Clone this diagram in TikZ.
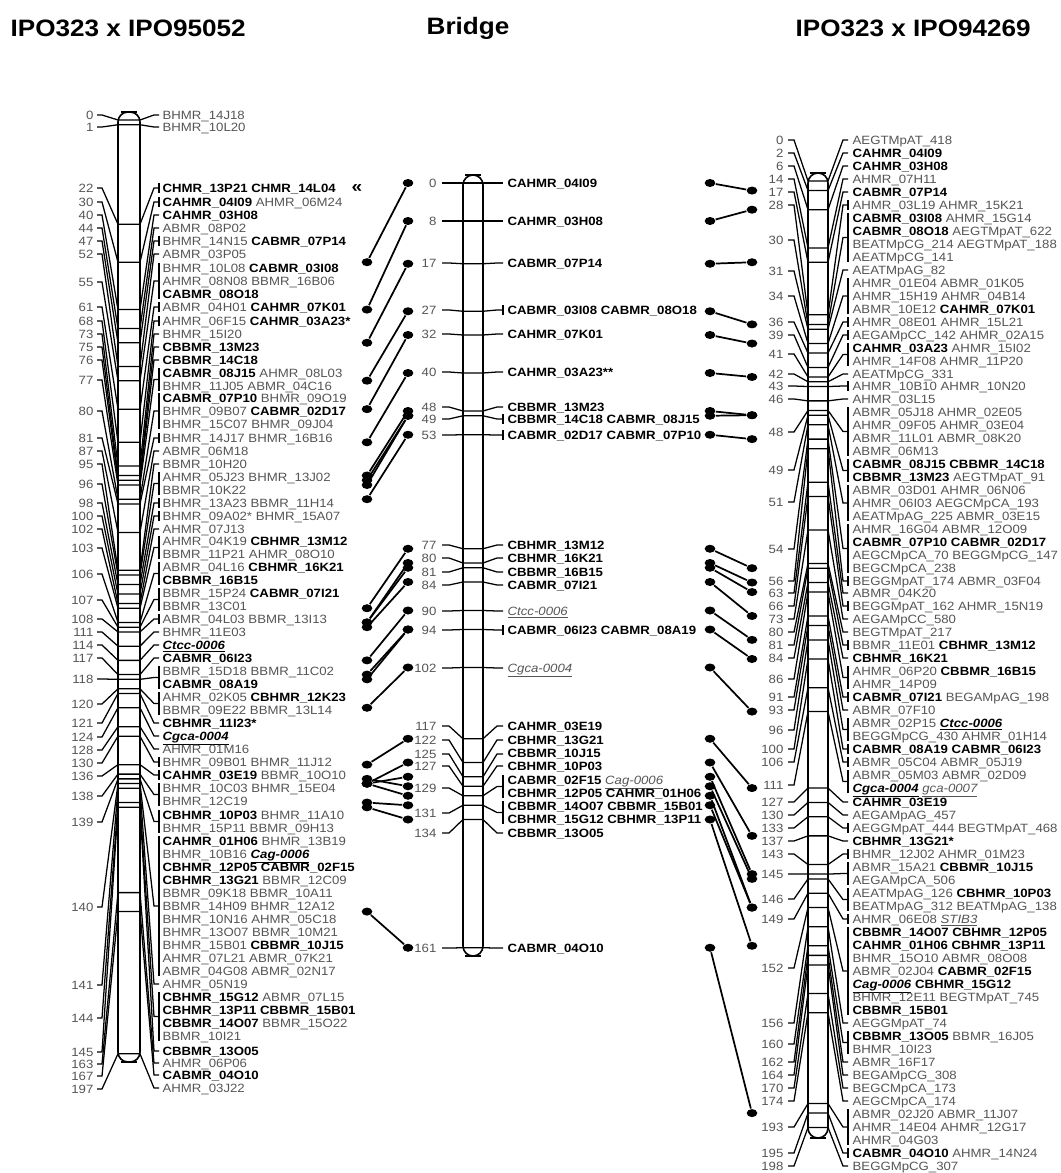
\documentclass[tikz,border=0pt]{standalone}
\usepackage{fontspec}
\setmainfont[FakeStretch=1.1]{Liberation Sans}
\usetikzlibrary{shapes.geometric}
\definecolor{mkgray}{HTML}{555555}
\newcommand\mkb[2]{\textbf{#1\_#2}}
\newcommand\mkg[2]{\textcolor{mkgray}{#1\_#2}}
\newcommand\mku[1]{\textbf{\textit{\underline{#1}}}}
\newcommand\mkn[1]{\textcolor{mkgray}{\textit{\underline{#1}}}}
\begin{document}
\begin{tikzpicture}[x=0.75pt, y=-0.75pt, line width=0.95pt,
  lab/.style={anchor=base west, inner sep=0pt, yshift=-3.2pt, font=\fontsize{9}{10}\selectfont},
  num/.style={anchor=base east, inner sep=0pt, yshift=-3.2pt, text=mkgray, font=\fontsize{9}{10}\selectfont},
  ttl/.style={inner sep=0pt, font=\bfseries\fontsize{17.8}{20}\selectfont},
  bar/.style={line width=1.2pt, rounded corners=7.5pt},
  dot/.style={ellipse, fill=black, inner sep=0pt, minimum width=8pt, minimum height=6pt},
  conn/.style={line width=1.3pt}]
\useasboundingbox (0,0) rectangle (1060,1173);
% titles
\node[ttl, anchor=west] (tleft) at (10,28) {IPO323 x IPO95052};
\node[ttl] (tmid) at (468,28) {Bridge};
\node[ttl, anchor=west] (tright) at (795,28) {IPO323 x IPO94269};
\node[inner sep=0pt, font=\bfseries\fontsize{13}{14}\selectfont] (dbl) at (357,189) {«};

% left map: position / number y / first label y / last label y / bracket
\foreach \ps/\ny/\ta/\tb/\fl [count=\k] in {0/115/115/115/0, 1/127/127/127/0, 22/188/188/188/1, 30/202/202/202/1,
  40/215/215/215/0, 44/228/228/228/0, 47/241/241/241/1, 52/254/254/254/0, 55/282/268/294/1, 61/307/307/307/1,
  68/321/321/321/1, 73/334/334/334/0, 75/347/347/347/0, 76/360/360/360/0, 77/380/373/386/1, 80/411/398/424/1,
  81/438/438/438/1, 87/451/451/451/0, 95/464/464/464/0, 96/484/477/490/1, 98/503/503/503/1, 100/516/516/516/1,
  102/529/529/529/0, 103/548/541/554/1, 106/574/567/580/1, 107/600/593/606/1, 108/619/619/619/1, 111/632/632/632/0,
  114/645/645/645/0, 117/658/658/658/0, 118/679/671/684/1, 120/704/697/710/1, 121/723/723/723/0, 124/737/736/736/0,
  128/750/749/749/0, 130/763/762/762/1, 136/776/775/775/1, 138/796/788/801/1, 139/822/815/828/1, 140/907/841/971/1,
  141/985/984/984/0, 144/1018/997/1036/1, 145/1052/1051/1051/0, 163/1064/1063/1063/0, 167/1076/1075/1075/0, 197/1089/1088/1088/0}{
  \pgfmathsetmacro\yp{120+4.74*\ps}\pgfmathsetmacro\ym{(\ta+\tb)/2}
  \node[num] (ln\k) at (94,\ny) {\ps};
  \draw (97,\ny) -- (102,\ny) -- (118,\yp) -- (140,\yp) -- (154,\ym) -- (159,\ym);
  \ifnum\fl=1 \draw (159,\ta-5) -- (159,\tb+5);\fi
}
\draw[bar] (118,112) rectangle (140,1062);
\draw (121,112) -- (137,112);\draw (121,1062) -- (137,1062);
\foreach \y/\txt [count=\k] in {115/\mkg{BHMR}{14J18}, 127/\mkg{BHMR}{10L20},
  188/\mkb{CHMR}{13P21} \mkb{CHMR}{14L04}, 202/\mkb{CAHMR}{04I09} \mkg{AHMR}{06M24}, 215/\mkb{CAHMR}{03H08},
  228/\mkg{ABMR}{08P02}, 241/\mkg{BHMR}{14N15} \mkb{CABMR}{07P14}, 254/\mkg{ABMR}{03P05},
  268/\mkg{BHMR}{10L08} \mkb{CABMR}{03I08}, 281/\mkg{AHMR}{08N08} \mkg{BBMR}{16B06}, 294/\mkb{CABMR}{08O18},
  307/\mkg{ABMR}{04H01} \mkb{CAHMR}{07K01}, 321/\mkg{AHMR}{06F15} \mkb{CAHMR}{03A23*}, 334/\mkg{BHMR}{15I20},
  347/\mkb{CBBMR}{13M23}, 360/\mkb{CBBMR}{14C18}, 373/\mkb{CABMR}{08J15} \mkg{AHMR}{08L03},
  386/\mkg{BHMR}{11J05} \mkg{ABMR}{04C16}, 398/\mkb{CABMR}{07P10} \mkg{BHMR}{09O19},
  411/\mkg{BHMR}{09B07} \mkb{CABMR}{02D17}, 424/\mkg{BHMR}{15C07} \mkg{BHMR}{09J04},
  438/\mkg{BHMR}{14J17} \mkg{BHMR}{16B16}, 451/\mkg{ABMR}{06M18}, 464/\mkg{BBMR}{10H20},
  477/\mkg{AHMR}{05J23} \mkg{BHMR}{13J02}, 490/\mkg{BBMR}{10K22}, 503/\mkg{BHMR}{13A23} \mkg{BBMR}{11H14},
  516/\mkg{BHMR}{09A02*} \mkg{BHMR}{15A07}, 529/\mkg{AHMR}{07J13}, 541/\mkg{AHMR}{04K19} \mkb{CBHMR}{13M12},
  554/\mkg{BBMR}{11P21} \mkg{AHMR}{08O10}, 567/\mkg{ABMR}{04L16} \mkb{CBHMR}{16K21}, 580/\mkb{CBBMR}{16B15},
  593/\mkg{BBMR}{15P24} \mkb{CABMR}{07I21}, 606/\mkg{BBMR}{13C01}, 619/\mkg{ABMR}{04L03} \mkg{BBMR}{13I13},
  632/\mkg{BHMR}{11E03}, 645/\mku{Ctcc-0006}, 658/\mkb{CABMR}{06I23}, 671/\mkg{BBMR}{15D18} \mkg{BBMR}{11C02},
  684/\mkb{CABMR}{08A19}, 697/\mkg{AHMR}{02K05} \mkb{CBHMR}{12K23}, 710/\mkg{BBMR}{09E22} \mkg{BBMR}{13L14},
  723/\mkb{CBHMR}{11I23*}, 736/\mku{Cgca-0004}, 749/\mkg{AHMR}{01M16}, 762/\mkg{BHMR}{09B01} \mkg{BHMR}{11J12},
  775/\mkb{CAHMR}{03E19} \mkg{BBMR}{10O10}, 788/\mkg{BHMR}{10C03} \mkg{BHMR}{15E04}, 801/\mkg{BHMR}{12C19},
  815/\mkb{CBHMR}{10P03} \mkg{BHMR}{11A10}, 828/\mkg{BHMR}{15P11} \mkg{BBMR}{09H13},
  841/\mkb{CAHMR}{01H06} \mkg{BHMR}{13B19}, 854/\mkg{BHMR}{10B16} \mku{Cag-0006},
  867/\mkb{CBHMR}{12P05} \mkb{CABMR}{02F15}, 880/\mkb{CBHMR}{13G21} \mkg{BBMR}{12C09},
  893/\mkg{BBMR}{09K18} \mkg{BBMR}{10A11}, 906/\mkg{BBMR}{14H09} \mkg{BHMR}{12A12},
  919/\mkg{BHMR}{10N16} \mkg{AHMR}{05C18}, 932/\mkg{BHMR}{13O07} \mkg{BBMR}{10M21},
  945/\mkg{BHMR}{15B01} \mkb{CBBMR}{10J15}, 958/\mkg{AHMR}{07L21} \mkg{ABMR}{07K21},
  971/\mkg{ABMR}{04G08} \mkg{ABMR}{02N17}, 984/\mkg{AHMR}{05N19}, 997/\mkb{CBHMR}{15G12} \mkg{ABMR}{07L15},
  1010/\mkb{CBHMR}{13P11} \mkb{CBBMR}{15B01}, 1023/\mkb{CBBMR}{14O07} \mkg{BBMR}{15O22}, 1036/\mkg{BBMR}{10I21},
  1051/\mkb{CBBMR}{13O05}, 1063/\mkg{AHMR}{06P06}, 1075/\mkb{CABMR}{04O10}, 1088/\mkg{AHMR}{03J22}}
  \node[lab] (ll\k) at (162,\y) {\txt};

% bridge map
\foreach \ps/\ny/\ta/\tb/\fl [count=\k] in {0/183/183/183/0, 8/221/221/221/0, 17/263/263/263/0, 27/310/310/310/1,
  32/334/334/334/0, 40/372/372/372/0, 48/407/407/407/0, 49/419/419/419/1, 53/435/435/435/1, 77/545/545/545/0,
  80/558/558/558/0, 81/572/572/572/0, 84/585/585/585/0, 90/611/611/611/0, 94/630/630/630/1, 102/668/668/668/0,
  117/726/726/726/0, 122/740/740/740/0, 125/754/754/754/0, 127/766/766/766/0, 129/788/780/793/1, 131/813/806/819/1,
  134/833/833/833/0, 161/948/948/948/0}{
  \pgfmathsetmacro\yp{183+4.75*\ps}\pgfmathsetmacro\ym{(\ta+\tb)/2}
  \node[num] (mn\k) at (437,\ny) {\ps};
  \draw (442,\ny) -- (449,\ny) -- (463,\yp) -- (483,\yp) -- (497,\ym) -- (503,\ym);
  \ifnum\fl=1 \draw (503,\ta-5) -- (503,\tb+5);\fi
}
\draw[bar] (463,175) rectangle (483,956);
\draw (465,175) -- (481,175);\draw (465,956) -- (481,956);
\foreach \y/\txt [count=\k] in {183/\mkb{CAHMR}{04I09}, 221/\mkb{CAHMR}{03H08}, 263/\mkb{CABMR}{07P14},
  310/\mkb{CABMR}{03I08} \mkb{CABMR}{08O18}, 334/\mkb{CAHMR}{07K01}, 372/\mkb{CAHMR}{03A23**},
  407/\mkb{CBBMR}{13M23}, 419/\mkb{CBBMR}{14C18} \mkb{CABMR}{08J15}, 435/\mkb{CABMR}{02D17} \mkb{CABMR}{07P10},
  545/\mkb{CBHMR}{13M12}, 558/\mkb{CBHMR}{16K21}, 572/\mkb{CBBMR}{16B15}, 585/\mkb{CABMR}{07I21},
  611/\mkn{Ctcc-0006}, 630/\mkb{CABMR}{06I23} \mkb{CABMR}{08A19}, 668/\mkn{Cgca-0004},
  726/\mkb{CAHMR}{03E19}, 740/\mkb{CBHMR}{13G21}, 753/\mkb{CBBMR}{10J15}, 766/\mkb{CBHMR}{10P03},
  780/\mkb{CABMR}{02F15} \mkn{Cag-0006}, 793/\mkb{CBHMR}{12P05} \mkb{CAHMR}{01H06},
  806/\mkb{CBBMR}{14O07} \mkb{CBBMR}{15B01}, 819/\mkb{CBHMR}{15G12} \mkb{CBHMR}{13P11},
  833/\mkb{CBBMR}{13O05}, 948/\mkb{CABMR}{04O10}}
  \node[lab] (ml\k) at (507,\y) {\txt};

% right map
\foreach \ps/\ny/\ta/\tb/\fl [count=\k] in {0/140/140/140/0, 2/153/153/153/0, 6/166/166/166/0, 14/179/179/179/0,
  17/192/192/192/0, 28/205/205/205/1, 30/240/218/257/1, 31/271/270/270/0, 34/296/283/309/1, 36/322/322/322/1,
  39/335/335/335/1, 41/354/348/361/1, 42/374/374/374/0, 43/386/386/386/1, 46/399/399/399/0, 48/432/412/451/1,
  49/470/464/477/1, 51/502/490/516/1, 54/549/529/568/1, 56/581/581/581/1, 63/593/593/593/0, 66/606/606/606/1,
  73/619/619/619/0, 80/632/632/632/0, 81/645/645/645/1, 84/658/658/658/0, 86/679/671/684/1, 91/697/697/697/1,
  93/710/710/710/0, 96/730/723/736/1, 100/749/749/749/1, 106/762/762/762/1, 111/785/775/788/1, 127/802/802/802/0,
  130/815/815/815/0, 133/828/828/828/1, 137/841/841/841/0, 143/854/854/854/1, 145/874/867/880/1, 146/899/893/906/1,
  149/919/919/919/1, 152/968/932/1010/1, 156/1023/1023/1023/0, 160/1044/1036/1049/1, 162/1062/1062/1062/0,
  164/1075/1075/1075/0, 170/1088/1088/1088/0, 174/1101/1101/1101/0, 193/1127/1114/1140/1, 195/1153/1153/1153/1,
  198/1166/1166/1166/0}{
  \pgfmathsetmacro\yp{181+4.78*\ps}\pgfmathsetmacro\ym{(\ta+\tb)/2}
  \node[num] (rn\k) at (784,\ny) {\ps};
  \draw (788,\ny) -- (794,\ny) -- (808,\yp) -- (828,\yp) -- (843,\ym) -- (848,\ym);
  \ifnum\fl=1 \draw (848,\ta-5) -- (848,\tb+5);\fi
}
\draw[bar] (808,173) rectangle (828,1138);
\draw (810,173) -- (826,173);\draw (810,1138) -- (826,1138);
\foreach \y/\txt [count=\k] in {140/\mkg{AEGTMpAT}{418}, 153/\mkb{CAHMR}{04I09}, 166/\mkb{CAHMR}{03H08},
  179/\mkg{AHMR}{07H11}, 192/\mkb{CABMR}{07P14}, 205/\mkg{AHMR}{03L19} \mkg{AHMR}{15K21},
  218/\mkb{CABMR}{03I08} \mkg{AHMR}{15G14}, 231/\mkb{CABMR}{08O18} \mkg{AEGTMpAT}{622},
  244/\mkg{BEATMpCG}{214} \mkg{AEGTMpAT}{188}, 257/\mkg{AEATMpCG}{141}, 270/\mkg{AEATMpAG}{82},
  283/\mkg{AHMR}{01E04} \mkg{ABMR}{01K05}, 296/\mkg{AHMR}{15H19} \mkg{AHMR}{04B14},
  309/\mkg{ABMR}{10E12} \mkb{CAHMR}{07K01}, 322/\mkg{AHMR}{08E01} \mkg{AHMR}{15L21},
  335/\mkg{AEGAMpCC}{142} \mkg{AHMR}{02A15}, 348/\mkb{CAHMR}{03A23} \mkg{AHMR}{15I02},
  361/\mkg{AHMR}{14F08} \mkg{AHMR}{11P20}, 374/\mkg{AEATMpCG}{331}, 386/\mkg{AHMR}{10B10} \mkg{AHMR}{10N20},
  399/\mkg{AHMR}{03L15}, 412/\mkg{ABMR}{05J18} \mkg{AHMR}{02E05}, 425/\mkg{AHMR}{09F05} \mkg{AHMR}{03E04},
  438/\mkg{ABMR}{11L01} \mkg{ABMR}{08K20}, 451/\mkg{ABMR}{06M13}, 464/\mkb{CABMR}{08J15} \mkb{CBBMR}{14C18},
  477/\mkb{CBBMR}{13M23} \mkg{AEGTMpAT}{91}, 490/\mkg{ABMR}{03D01} \mkg{AHMR}{06N06},
  503/\mkg{AHMR}{06I03} \mkg{AEGCMpCA}{193}, 516/\mkg{AEATMpAG}{225} \mkg{ABMR}{03E15},
  529/\mkg{AHMR}{16G04} \mkg{ABMR}{12O09}, 542/\mkb{CABMR}{07P10} \mkb{CABMR}{02D17},
  555/\mkg{AEGCMpCA}{70} \mkg{BEGGMpCG}{147}, 568/\mkg{BEGCMpCA}{238}, 581/\mkg{BEGGMpAT}{174} \mkg{ABMR}{03F04},
  593/\mkg{ABMR}{04K20}, 606/\mkg{BEGGMpAT}{162} \mkg{AHMR}{15N19}, 619/\mkg{AEGAMpCC}{580},
  632/\mkg{BEGTMpAT}{217}, 645/\mkg{BBMR}{11E01} \mkb{CBHMR}{13M12}, 658/\mkb{CBHMR}{16K21},
  671/\mkg{AHMR}{06P20} \mkb{CBBMR}{16B15}, 684/\mkg{AHMR}{14P09}, 697/\mkb{CABMR}{07I21} \mkg{BEGAMpAG}{198},
  710/\mkg{ABMR}{07F10}, 723/\mkg{ABMR}{02P15} \mku{Ctcc-0006}, 736/\mkg{BEGGMpCG}{430} \mkg{AHMR}{01H14},
  749/\mkb{CABMR}{08A19} \mkb{CABMR}{06I23}, 762/\mkg{ABMR}{05C04} \mkg{ABMR}{05J19},
  775/\mkg{ABMR}{05M03} \mkg{ABMR}{02D09}, 788/\mku{Cgca-0004} \mkn{gca-0007}, 802/\mkb{CAHMR}{03E19},
  815/\mkg{AEGAMpAG}{457}, 828/\mkg{AEGGMpAT}{444} \mkg{BEGTMpAT}{468}, 841/\mkb{CBHMR}{13G21*},
  854/\mkg{BHMR}{12J02} \mkg{AHMR}{01M23}, 867/\mkg{ABMR}{15A21} \mkb{CBBMR}{10J15}, 880/\mkg{AEGAMpCA}{506},
  893/\mkg{AEATMpAG}{126} \mkb{CBHMR}{10P03}, 906/\mkg{BEATMpAG}{312} \mkg{BEATMpAG}{138},
  919/\mkg{AHMR}{06E08} \mkn{STIB3}, 932/\mkb{CBBMR}{14O07} \mkb{CBHMR}{12P05},
  945/\mkb{CAHMR}{01H06} \mkb{CBHMR}{13P11}, 958/\mkg{BHMR}{15O10} \mkg{ABMR}{08O08},
  971/\mkg{ABMR}{02J04} \mkb{CABMR}{02F15}, 984/\mku{Cag-0006} \mkb{CBHMR}{15G12},
  997/\mkg{BHMR}{12E11} \mkg{BEGTMpAT}{745}, 1010/\mkb{CBBMR}{15B01}, 1023/\mkg{AEGGMpAT}{74},
  1036/\mkb{CBBMR}{13O05} \mkg{BBMR}{16J05}, 1049/\mkg{BHMR}{10I23}, 1062/\mkg{ABMR}{16F17},
  1075/\mkg{BEGAMpCG}{308}, 1088/\mkg{BEGCMpCA}{173}, 1101/\mkg{AEGCMpCA}{174},
  1114/\mkg{ABMR}{02J20} \mkg{ABMR}{11J07}, 1127/\mkg{AHMR}{14E04} \mkg{AHMR}{12G17}, 1140/\mkg{AHMR}{04G03},
  1153/\mkb{CABMR}{04O10} \mkg{AHMR}{14N24}, 1166/\mkg{BEGGMpCG}{307}}
  \node[lab] (rl\k) at (852,\y) {\txt};

% shared markers, left map to bridge
\foreach \a/\m [count=\k] in {30/0, 40/8, 47/17, 55/27, 61/32, 68/40, 75/48, 76/49, 77/49, 80/53, 103/77, 106/80,
  106/81, 107/84, 114/90, 117/94, 118/94, 124/102, 136/117, 140/122, 140/125, 139/127, 140/129, 144/131, 145/134, 167/161}{
  \pgfmathsetmacro\ya{120+4.74*\a}\pgfmathsetmacro\yb{183+4.75*\m}
  \node[dot] (la\k) at (367,\ya) {};\node[dot] (lb\k) at (408,\yb) {};
  \draw[conn] (la\k) -- (lb\k);
}
% shared markers, bridge to right map
\foreach \m/\a [count=\k] in {0/2, 8/6, 17/17, 27/30, 32/34, 40/41, 48/49, 49/49, 53/54, 77/81, 80/84, 81/86,
  84/91, 90/96, 94/100, 102/111, 117/127, 122/137, 125/145, 127/146, 129/152, 131/152, 134/160, 161/195}{
  \pgfmathsetmacro\ya{183+4.75*\m}\pgfmathsetmacro\yb{181+4.78*\a}
  \node[dot] (ra\k) at (710,\ya) {};\node[dot] (rb\k) at (752,\yb) {};
  \draw[conn] (ra\k) -- (rb\k);
}
\end{tikzpicture}
\end{document}
